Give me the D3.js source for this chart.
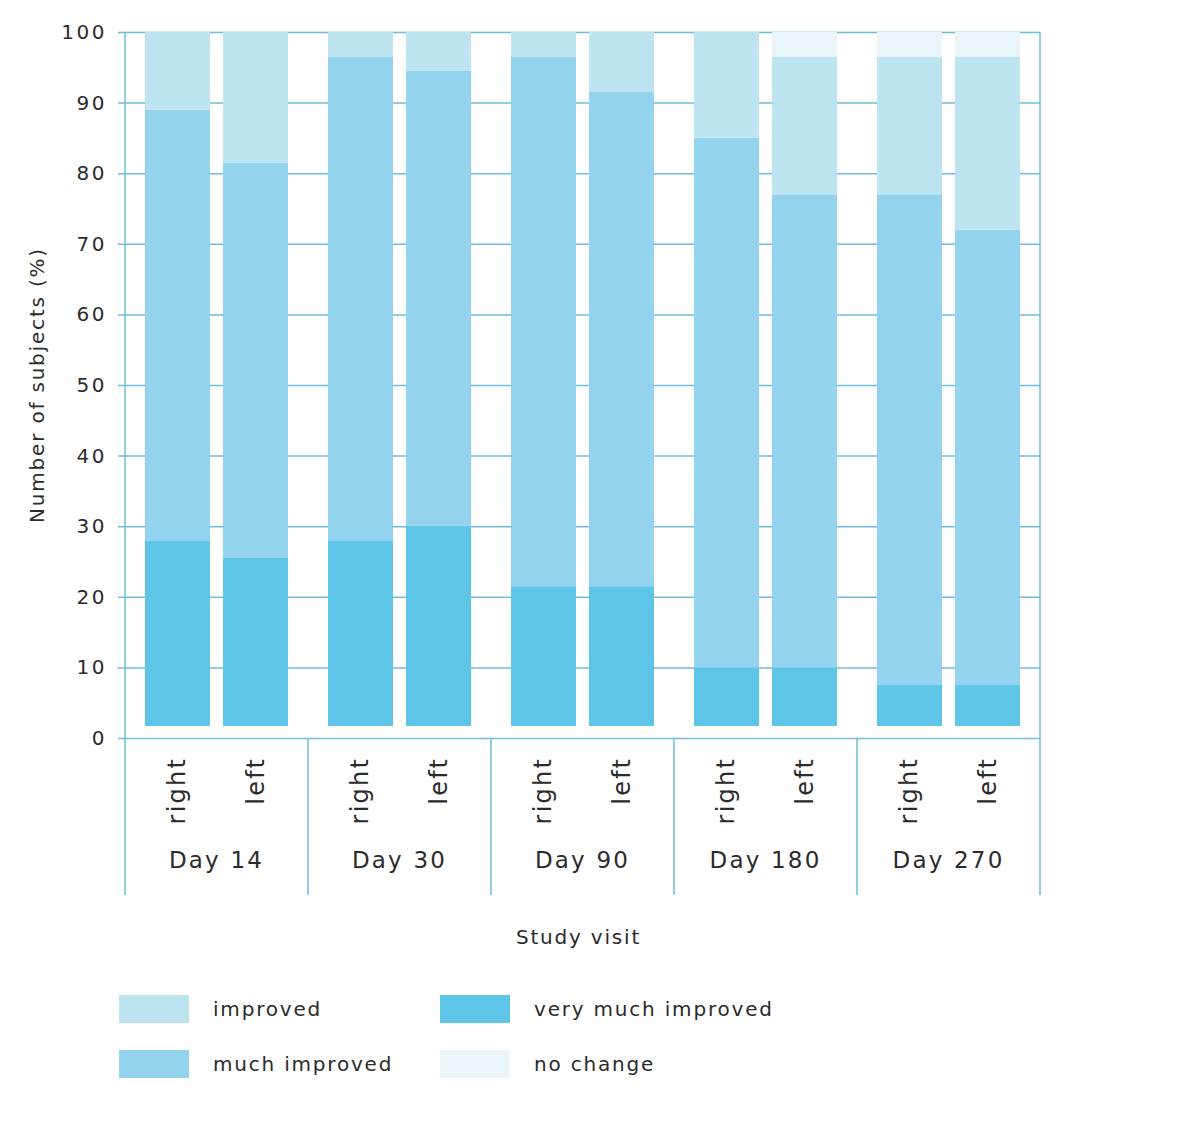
<!DOCTYPE html>
<html>
<head>
<meta charset="utf-8">
<script src="https://cdn.jsdelivr.net/npm/d3@7"></script>
<style>
	body { margin: 0; background: #fff; }
	text { font-family: "DejaVu Sans", sans-serif; fill: #2b2b2b; }
</style>
</head>
<body>
<svg id="chart" width="1177" height="1132"></svg>
<script>
// data
var visits = ["Day 14", "Day 30", "Day 90", "Day 180", "Day 270"];
var sides = ["right", "left"];
var categories = ["very much improved", "much improved", "improved", "no change"];
// one value per bar, in order: Day14 right, Day14 left, Day30 right, ...
var veryMuch = [28, 25.5, 28, 30, 21.5, 21.5, 10, 10, 7.5, 7.5];
var much = [61, 56, 68.5, 64.5, 75, 70, 75, 67, 69.5, 64.5];
var improved = [11, 18.5, 3.5, 5.5, 3.5, 8.5, 15, 19.5, 19.5, 24.5];
var noChange = [0, 0, 0, 0, 0, 0, 0, 3.5, 3.5, 3.5];
var yTicks = [0, 10, 20, 30, 40, 50, 60, 70, 80, 90, 100];

var colors = {
	"very much improved": "#5ec4e8",
	"much improved": "#93d3ed",
	"improved": "#bee4f2",
	"no change": "#e9f5f8"
};
var lineColor = "#6fbcdb";

var margin = {top: 32, left: 125, right: 137, bottom: 394},
	width = 1177 - margin.left - margin.right,
	height = 1132 - margin.top - margin.bottom;

var rows = [];
visits.forEach(function(v, i) {
	sides.forEach(function(s, j) {
		var k = i * 2 + j;
		rows.push({
			visit: v, side: s,
			"very much improved": veryMuch[k],
			"much improved": much[k],
			"improved": improved[k],
			"no change": noChange[k]
		});
	});
});

var x0 = d3.scaleBand().domain(visits).range([0, width]).padding(0);
var x1 = d3.scaleBand().domain(sides).range([0, x0.bandwidth()])
	.paddingInner(0.167).paddingOuter(0.256);
var y = d3.scaleLinear().domain([0, 100]).range([height, 0]);

var svg = d3.select("#chart");
var g = svg.append("g")
	.attr("transform", "translate(" + margin.left + "," + margin.top + ")");

// gridlines + left axis
g.append("g")
	.attr("class", "axis axis--y")
	.call(d3.axisLeft(y).tickValues(yTicks).tickSize(7).tickPadding(11).tickSizeOuter(0))
	.call(function(a) {
		a.select(".domain").remove();
		a.selectAll(".tick line").attr("stroke", lineColor).attr("stroke-width", 1.5)
			.attr("x1", -7).attr("x2", width);
		a.selectAll(".tick text")
			.style("font-size", "20px")
			.style("letter-spacing", "2.5px")
			.attr("fill", "#2b2b2b");
	});

// stacked bars
var stack = d3.stack().keys(categories);
var series = stack(rows);
var bottomGap = 12;

g.selectAll(".series")
	.data(series)
	.enter().append("g")
	.attr("class", "series")
	.attr("fill", function(d) { return colors[d.key]; })
	.selectAll("rect")
	.data(function(d) { return d; })
	.enter().append("rect")
	.attr("x", function(d) { return x0(d.data.visit) + x1(d.data.side); })
	.attr("y", function(d) { return y(d[1]); })
	.attr("width", x1.bandwidth())
	.attr("height", function(d) {
		var h = y(d[0]) - y(d[1]) - (d[0] === 0 ? bottomGap : 0);
		return Math.max(0, h);
	});

// frame lines
var bottomExt = 157;
g.append("line").attr("x1", 0).attr("x2", 0).attr("y1", 0).attr("y2", height + bottomExt)
	.attr("stroke", lineColor).attr("stroke-width", 1.5);
g.append("line").attr("x1", width).attr("x2", width).attr("y1", 0).attr("y2", height + bottomExt)
	.attr("stroke", lineColor).attr("stroke-width", 1.5);
g.selectAll(".sep")
	.data(visits.slice(1))
	.enter().append("line")
	.attr("class", "sep")
	.attr("x1", function(d) { return x0(d); })
	.attr("x2", function(d) { return x0(d); })
	.attr("y1", height).attr("y2", height + bottomExt)
	.attr("stroke", lineColor).attr("stroke-width", 1.5);

// side labels
visits.forEach(function(v) {
	sides.forEach(function(s) {
		var cx = x0(v) + x1(s) + x1.bandwidth() / 2;
		g.append("text")
			.attr("transform", "translate(" + (cx + 8) + "," + (height + 19) + ") rotate(-90)")
			.attr("text-anchor", "end")
			.style("font-size", "24px")
			.style("letter-spacing", "2.2px")
			.text(s);
	});
});

// visit labels
g.selectAll(".visit")
	.data(visits)
	.enter().append("text")
	.attr("class", "visit")
	.attr("x", function(d) { return x0(d) + x0.bandwidth() / 2; })
	.attr("y", height + 130)
	.attr("text-anchor", "middle")
	.style("font-size", "23px")
	.style("letter-spacing", "2.2px")
	.text(function(d) { return d; });

// axis titles
g.append("text")
	.attr("x", width / 2 - 4)
	.attr("y", height + 206)
	.attr("text-anchor", "middle")
	.style("font-size", "20px")
	.style("letter-spacing", "1.8px")
	.text("Study visit");

g.append("text")
	.attr("transform", "translate(-81," + (height / 2) + ") rotate(-90)")
	.attr("text-anchor", "middle")
	.style("font-size", "20px")
	.style("letter-spacing", "1.8px")
	.text("Number of subjects (%)");

// legend
var legendItems = [
	{key: "improved", x: 119, y: 995},
	{key: "very much improved", x: 440, y: 995},
	{key: "much improved", x: 119, y: 1050},
	{key: "no change", x: 440, y: 1050}
];
var legend = svg.append("g").attr("class", "legend");
legendItems.forEach(function(d) {
	legend.append("rect")
		.attr("x", d.x).attr("y", d.y)
		.attr("width", 70).attr("height", 28)
		.attr("fill", colors[d.key]);
	legend.append("text")
		.attr("x", d.x + 94).attr("y", d.y + 21)
		.style("font-size", "20px")
		.style("letter-spacing", "1.8px")
		.text(d.key);
});
</script>
</body>
</html>
